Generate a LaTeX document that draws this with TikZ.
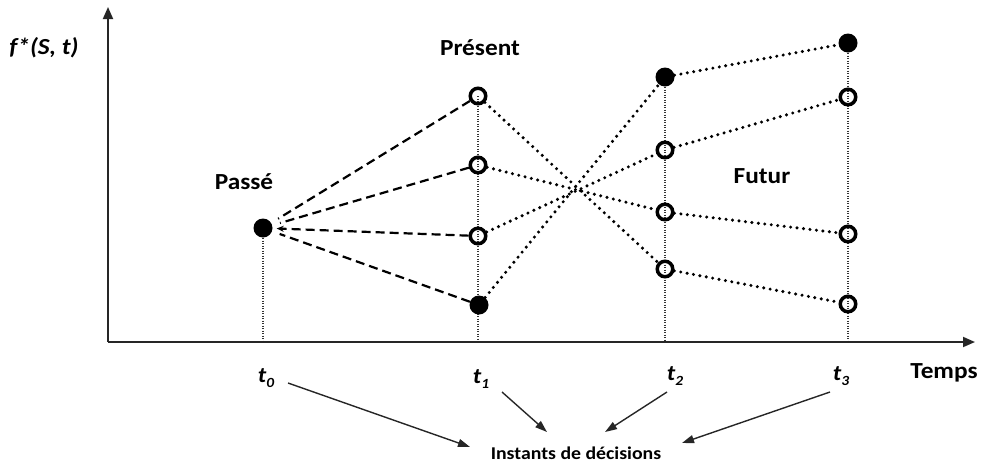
\documentclass[tikz,border=0pt]{standalone}
\usepackage{fontspec}
\setmainfont{Carlito}[FakeStretch=1.1]
\usetikzlibrary{arrows.meta}
\begin{document}
\begin{tikzpicture}[x=1pt,y=-1pt,
  lbl/.style={font=\fontsize{23}{26}\selectfont\bfseries},
  tlbl/.style={font=\fontsize{22}{24}\selectfont\bfseries\itshape},
  opn/.style={circle,draw=black,line width=3.5pt,minimum size=15.5pt,inner sep=0pt},
  fil/.style={circle,fill=black,minimum size=19pt,inner sep=0pt},
  dots/.style={line width=3.4pt,line cap=round,dash pattern=on 0pt off 6.5pt},
  dsh/.style={line width=2.2pt,dash pattern=on 9pt off 5pt},
  guide/.style={line width=1.8pt,draw=black!80,dash pattern=on 1.2pt off 1.3pt},
  axis/.style={line width=1.8pt,draw=black!85,-{Triangle[length=12pt,width=10pt]}},
  arr/.style={line width=1.4pt,draw=black!85,-{Triangle[length=12pt,width=8pt]}}]
\useasboundingbox (0,0) rectangle (983,467);
% positions
\coordinate (O) at (108,342);
\coordinate (pP) at (263,228);
\coordinate (pA1) at (478,96);
\coordinate (pA2) at (478,165);
\coordinate (pA3) at (478,236);
\coordinate (pA4) at (479,305);
\coordinate (pB1) at (665,77);
\coordinate (pB2) at (665,150);
\coordinate (pB3) at (665,212);
\coordinate (pB4) at (665,269);
\coordinate (pC1) at (848,43);
\coordinate (pC2) at (848,97);
\coordinate (pC3) at (848,234);
\coordinate (pC4) at (848,304);
\coordinate (ytop) at (108,7);
\coordinate (xend) at (975,342);
% guides
\draw[guide] (pP) -- (pP |- O);
\draw[guide] (pA1) -- (pA1 |- O);
\draw[guide] (pB1) -- (pB1 |- O);
\draw[guide] (pC1) -- (pC1 |- O);
% axes
\draw[axis] (O) -- (ytop);
\draw[axis] (O) -- (xend);
% nodes
\node[fil] (P) at (pP) {};
\node[opn] (A1) at (pA1) {};
\node[opn] (A2) at (pA2) {};
\node[opn] (A3) at (pA3) {};
\node[fil] (A4) at (pA4) {};
\node[fil] (B1) at (pB1) {};
\node[opn] (B2) at (pB2) {};
\node[opn] (B3) at (pB3) {};
\node[opn] (B4) at (pB4) {};
\node[fil] (C1) at (pC1) {};
\node[opn] (C2) at (pC2) {};
\node[opn] (C3) at (pC3) {};
\node[opn] (C4) at (pC4) {};
% dashed from past
\draw[dsh,shorten >=8pt] (A1) -- (P);
\draw[dsh,shorten >=8pt] (A2) -- (P);
\draw[dsh,shorten >=4pt,-{Stealth[length=7pt,width=6pt]}] (A3) -- (P);
\draw[dsh,shorten >=8pt] (A4) -- (P);
% dotted futures
\draw[dots] (A1) -- (B4);
\draw[dots] (A2) -- (B3);
\draw[dots] (A3) -- (B2);
\draw[dots] (A4) -- (B1);
\draw[dots] (B1) -- (C1);
\draw[dots] (B2) -- (C2);
\draw[dots] (B3) -- (C3);
\draw[dots] (B4) -- (C4);
% labels
\node[lbl] (fs) at (44,48) {\itshape f*(S, t)};
\node[lbl] (pres) at (480,48) {Présent};
\node[lbl] (passe) at (244,182) {Passé};
\node[lbl] (fut) at (762,176) {Futur};
\node[lbl] (temps) at (944,373) {Temps};
\newcommand{\tsub}[1]{t\raisebox{-0.45ex}{\fontsize{14}{14}\selectfont #1}}
\node[tlbl] (t0) at (266,378) {\tsub{0}};
\node[tlbl] (t1) at (481,379) {\tsub{1}};
\node[tlbl] (t2) at (675,376) {\tsub{2}};
\node[tlbl] (t3) at (841,376) {\tsub{3}};
\node[font=\fontsize{18}{20}\selectfont\bfseries] (inst) at (576,453) {Instants de décisions};
% decision arrows
\draw[arr] ([shift={(22,5)}]t0.center) -- ([shift={(-106,-6)}]inst.center);
\draw[arr] ([shift={(21,13)}]t1.center) -- ([shift={(-29,-21)}]inst.center);
\draw[arr] ([shift={(-8,16)}]t2.center) -- ([shift={(29,-21)}]inst.center);
\draw[arr] ([shift={(-11,16)}]t3.center) -- ([shift={(106,-10)}]inst.center);
\end{tikzpicture}
\end{document}
